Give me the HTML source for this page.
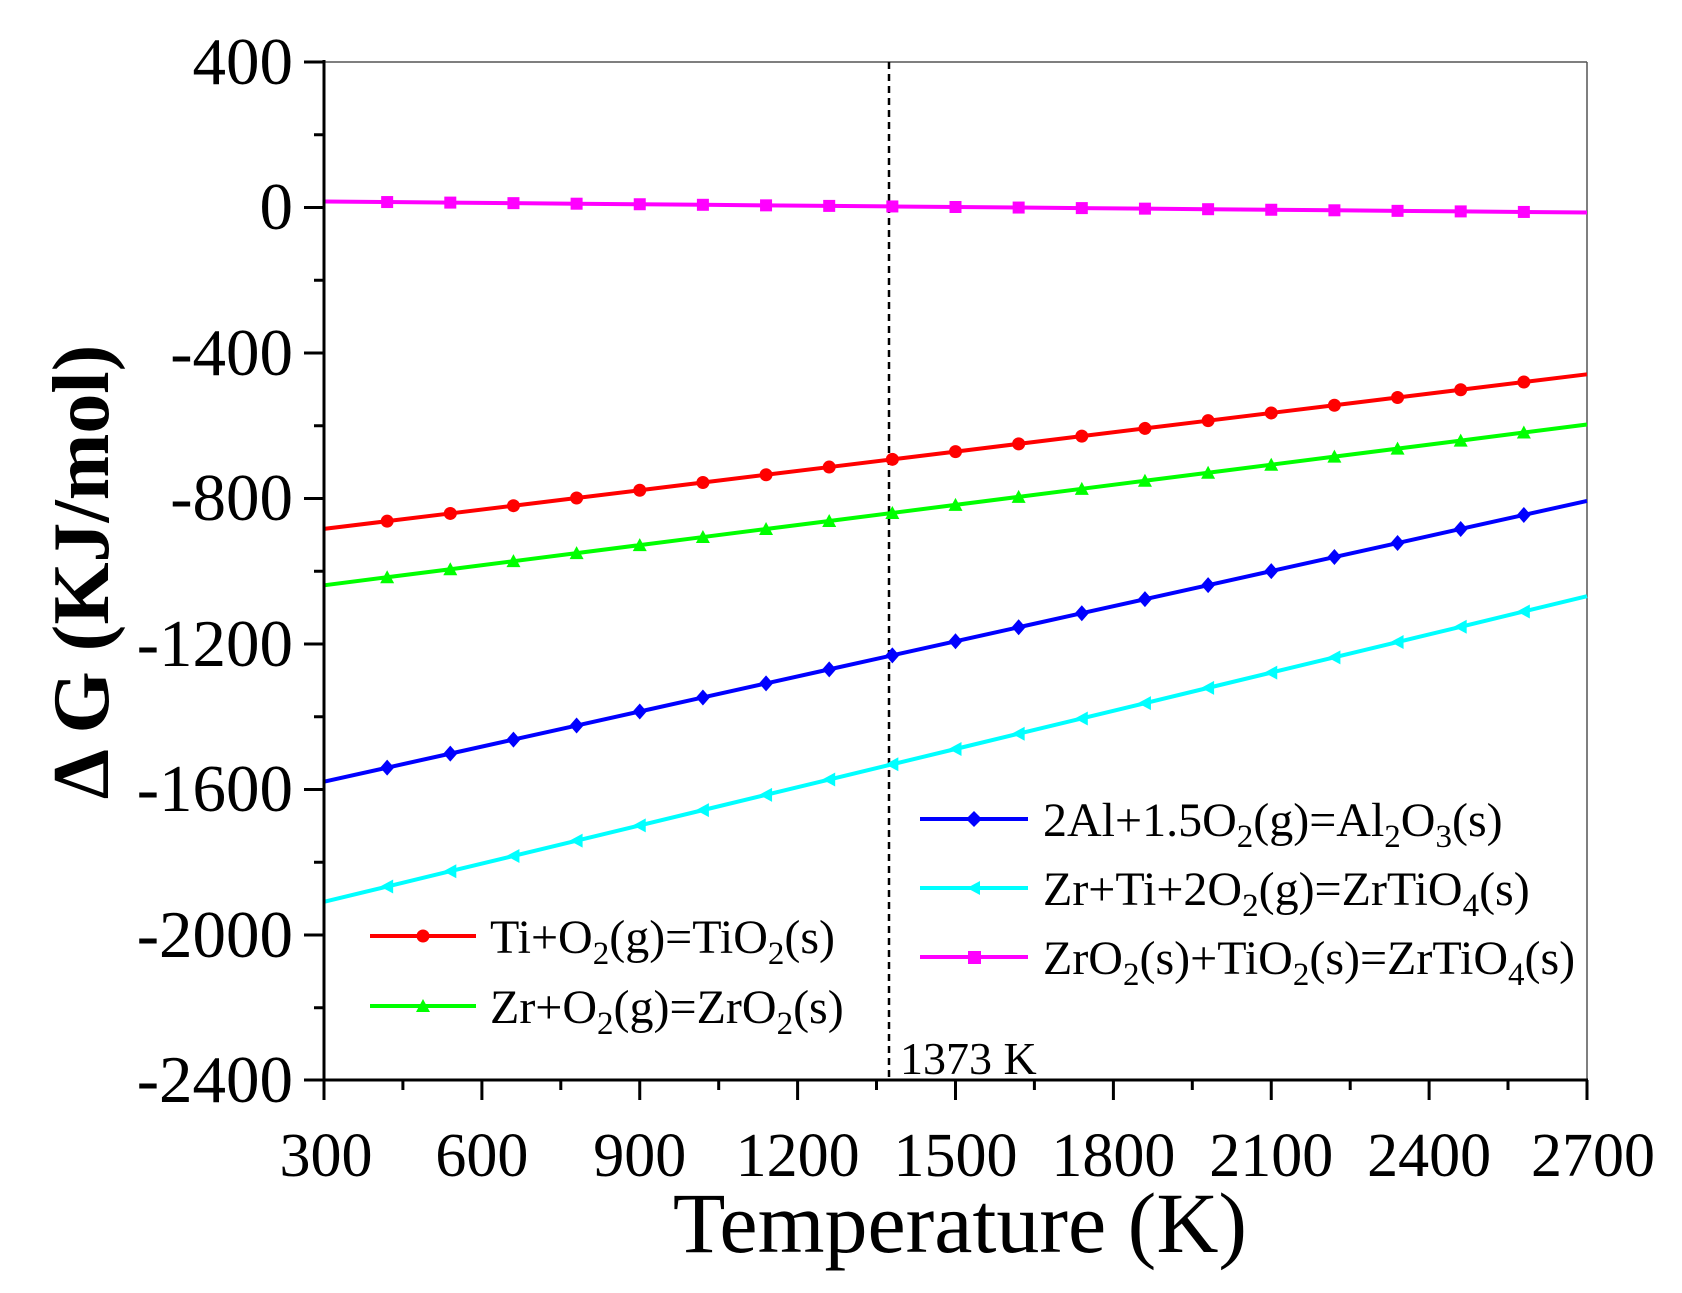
<!DOCTYPE html>
<html><head><meta charset="utf-8"><style>html,body{margin:0;padding:0;background:#fff}svg{display:block}</style></head>
<body>
<svg width="1682" height="1293" viewBox="0 0 1682 1293" xmlns="http://www.w3.org/2000/svg" font-family="Liberation Serif, serif">
<defs>
<marker id="mc" markerUnits="userSpaceOnUse" markerWidth="18" markerHeight="18" refX="9" refY="9"><circle cx="9" cy="9" r="6.5" fill="#f00"/></marker>
<marker id="mt" markerUnits="userSpaceOnUse" markerWidth="18" markerHeight="18" refX="9" refY="9"><polygon points="9,2 16,15 2,15" fill="#0f0"/></marker>
<marker id="md" markerUnits="userSpaceOnUse" markerWidth="18" markerHeight="18" refX="9" refY="9"><polygon points="9,1 16,9 9,17 2,9" fill="#00f"/></marker>
<marker id="ml" markerUnits="userSpaceOnUse" markerWidth="18" markerHeight="18" refX="9" refY="9"><polygon points="2,9 15,2 15,16" fill="#0ff"/></marker>
<marker id="ms" markerUnits="userSpaceOnUse" markerWidth="18" markerHeight="18" refX="9" refY="9"><rect x="3" y="3" width="12" height="12" fill="#f0f"/></marker>
</defs>
<line x1="324" y1="62" x2="1587" y2="62" stroke="#555" stroke-width="1.5"/>
<line x1="1587" y1="62" x2="1587" y2="1080" stroke="#555" stroke-width="1.5"/>
<line x1="889" y1="62" x2="889" y2="1080" stroke="#000" stroke-width="2.5" stroke-dasharray="7,5"/>
<g fill="none" stroke-width="4">
<path stroke="#f00" marker-mid="url(#mc)" d="M324 528.9 l63.15 -7.73 l63.15 -7.73 l63.15 -7.73 l63.15 -7.73 l63.15 -7.73 l63.15 -7.73 l63.15 -7.73 l63.15 -7.73 l63.15 -7.73 l63.15 -7.73 l63.15 -7.73 l63.15 -7.73 l63.15 -7.73 l63.15 -7.73 l63.15 -7.73 l63.15 -7.73 l63.15 -7.73 l63.15 -7.73 l63.15 -7.73 l63.15 -7.73"/>
<path stroke="#0f0" marker-mid="url(#mt)" d="M324 585.3 l63.15 -8.04 l63.15 -8.04 l63.15 -8.04 l63.15 -8.04 l63.15 -8.04 l63.15 -8.04 l63.15 -8.04 l63.15 -8.04 l63.15 -8.04 l63.15 -8.04 l63.15 -8.04 l63.15 -8.04 l63.15 -8.04 l63.15 -8.04 l63.15 -8.04 l63.15 -8.04 l63.15 -8.04 l63.15 -8.04 l63.15 -8.04 l63.15 -8.04"/>
<path stroke="#00f" marker-mid="url(#md)" d="M324 781.7 l63.15 -14.04 l63.15 -14.04 l63.15 -14.04 l63.15 -14.04 l63.15 -14.04 l63.15 -14.04 l63.15 -14.04 l63.15 -14.04 l63.15 -14.04 l63.15 -14.04 l63.15 -14.04 l63.15 -14.04 l63.15 -14.04 l63.15 -14.04 l63.15 -14.04 l63.15 -14.04 l63.15 -14.04 l63.15 -14.04 l63.15 -14.04 l63.15 -14.04"/>
<path stroke="#0ff" marker-mid="url(#ml)" d="M324 901.8 l63.15 -15.28 l63.15 -15.28 l63.15 -15.28 l63.15 -15.28 l63.15 -15.28 l63.15 -15.28 l63.15 -15.28 l63.15 -15.28 l63.15 -15.28 l63.15 -15.28 l63.15 -15.28 l63.15 -15.28 l63.15 -15.28 l63.15 -15.28 l63.15 -15.28 l63.15 -15.28 l63.15 -15.28 l63.15 -15.28 l63.15 -15.28 l63.15 -15.28"/>
<path stroke="#f0f" marker-mid="url(#ms)" d="M324 201.5 l63.15 0.55 l63.15 0.55 l63.15 0.55 l63.15 0.55 l63.15 0.55 l63.15 0.55 l63.15 0.55 l63.15 0.55 l63.15 0.55 l63.15 0.55 l63.15 0.55 l63.15 0.55 l63.15 0.55 l63.15 0.55 l63.15 0.55 l63.15 0.55 l63.15 0.55 l63.15 0.55 l63.15 0.55 l63.15 0.55"/>
</g>
<g stroke="#000" stroke-width="3">
<line x1="324" y1="60" x2="324" y2="1081"/>
<line x1="322" y1="1080" x2="1588" y2="1080"/>
<line x1="304" y1="62" x2="324" y2="62"/><line x1="304" y1="207.5" x2="324" y2="207.5"/><line x1="304" y1="353" x2="324" y2="353"/><line x1="304" y1="498.5" x2="324" y2="498.5"/><line x1="304" y1="644" x2="324" y2="644"/><line x1="304" y1="789.5" x2="324" y2="789.5"/><line x1="304" y1="935" x2="324" y2="935"/><line x1="304" y1="1080" x2="324" y2="1080"/>
<line x1="314" y1="134.75" x2="324" y2="134.75"/><line x1="314" y1="280.25" x2="324" y2="280.25"/><line x1="314" y1="425.75" x2="324" y2="425.75"/><line x1="314" y1="571.25" x2="324" y2="571.25"/><line x1="314" y1="716.75" x2="324" y2="716.75"/><line x1="314" y1="862.25" x2="324" y2="862.25"/><line x1="314" y1="1007.75" x2="324" y2="1007.75"/>
<line x1="324" y1="1080" x2="324" y2="1100"/><line x1="481.9" y1="1080" x2="481.9" y2="1100"/><line x1="639.75" y1="1080" x2="639.75" y2="1100"/><line x1="797.6" y1="1080" x2="797.6" y2="1100"/><line x1="955.5" y1="1080" x2="955.5" y2="1100"/><line x1="1113.4" y1="1080" x2="1113.4" y2="1100"/><line x1="1271.25" y1="1080" x2="1271.25" y2="1100"/><line x1="1429.1" y1="1080" x2="1429.1" y2="1100"/><line x1="1587" y1="1080" x2="1587" y2="1100"/>
<line x1="402.9" y1="1080" x2="402.9" y2="1090"/><line x1="560.8" y1="1080" x2="560.8" y2="1090"/><line x1="718.7" y1="1080" x2="718.7" y2="1090"/><line x1="876.5" y1="1080" x2="876.5" y2="1090"/><line x1="1034.4" y1="1080" x2="1034.4" y2="1090"/><line x1="1192.3" y1="1080" x2="1192.3" y2="1090"/><line x1="1350.2" y1="1080" x2="1350.2" y2="1090"/><line x1="1508" y1="1080" x2="1508" y2="1090"/>
</g>
<g font-size="67" text-anchor="end" fill="#000">
<text x="293" y="84">400</text><text x="293" y="229">0</text><text x="293" y="375">-400</text><text x="293" y="520">-800</text><text x="293" y="666">-1200</text><text x="293" y="811">-1600</text><text x="293" y="957">-2000</text><text x="293" y="1102">-2400</text>
</g>
<g font-size="62" text-anchor="middle" fill="#000">
<text x="326" y="1176">300</text><text x="481.9" y="1176">600</text><text x="639.75" y="1176">900</text><text x="797.6" y="1176">1200</text><text x="955.5" y="1176">1500</text><text x="1113.4" y="1176">1800</text><text x="1271.25" y="1176">2100</text><text x="1429.1" y="1176">2400</text><text x="1593" y="1176">2700</text>
</g>
<text x="960" y="1252" font-size="86" text-anchor="middle">Temperature (K)</text>
<text transform="translate(108,572) rotate(-90)" font-size="80" font-weight="bold" text-anchor="middle">Δ G (KJ/mol)</text>
<text x="900" y="1074" font-size="46">1373 K</text>
<g stroke-width="4">
<line x1="370" y1="936" x2="476" y2="936" stroke="#f00"/><circle cx="423" cy="936" r="6.5" fill="#f00"/>
<line x1="370" y1="1006" x2="476" y2="1006" stroke="#0f0"/><polygon points="423,999 430,1012 416,1012" fill="#0f0"/>
<line x1="920" y1="819" x2="1028" y2="819" stroke="#00f"/><polygon points="974,811 982,819 974,827 966,819" fill="#00f"/>
<line x1="920" y1="888" x2="1028" y2="888" stroke="#0ff"/><polygon points="967,888 980,881 980,895" fill="#0ff"/>
<line x1="920" y1="957" x2="1028" y2="957" stroke="#f0f"/><rect x="968" y="951" width="13" height="13" fill="#f0f"/>
</g>
<g font-size="48" fill="#000">
<text x="490" y="953">Ti+O<tspan dy="11" font-size="33">2</tspan><tspan dy="-11">(g)=TiO</tspan><tspan dy="11" font-size="33">2</tspan><tspan dy="-11">(s)</tspan></text>
<text x="490" y="1023">Zr+O<tspan dy="11" font-size="33">2</tspan><tspan dy="-11">(g)=ZrO</tspan><tspan dy="11" font-size="33">2</tspan><tspan dy="-11">(s)</tspan></text>
<text x="1043" y="836">2Al+1.5O<tspan dy="11" font-size="33">2</tspan><tspan dy="-11">(g)=Al</tspan><tspan dy="11" font-size="33">2</tspan><tspan dy="-11">O</tspan><tspan dy="11" font-size="33">3</tspan><tspan dy="-11">(s)</tspan></text>
<text x="1043" y="905">Zr+Ti+2O<tspan dy="11" font-size="33">2</tspan><tspan dy="-11">(g)=ZrTiO</tspan><tspan dy="11" font-size="33">4</tspan><tspan dy="-11">(s)</tspan></text>
<text x="1043" y="974">ZrO<tspan dy="11" font-size="33">2</tspan><tspan dy="-11">(s)+TiO</tspan><tspan dy="11" font-size="33">2</tspan><tspan dy="-11">(s)=ZrTiO</tspan><tspan dy="11" font-size="33">4</tspan><tspan dy="-11">(s)</tspan></text>
</g>
</svg>
</body></html>
